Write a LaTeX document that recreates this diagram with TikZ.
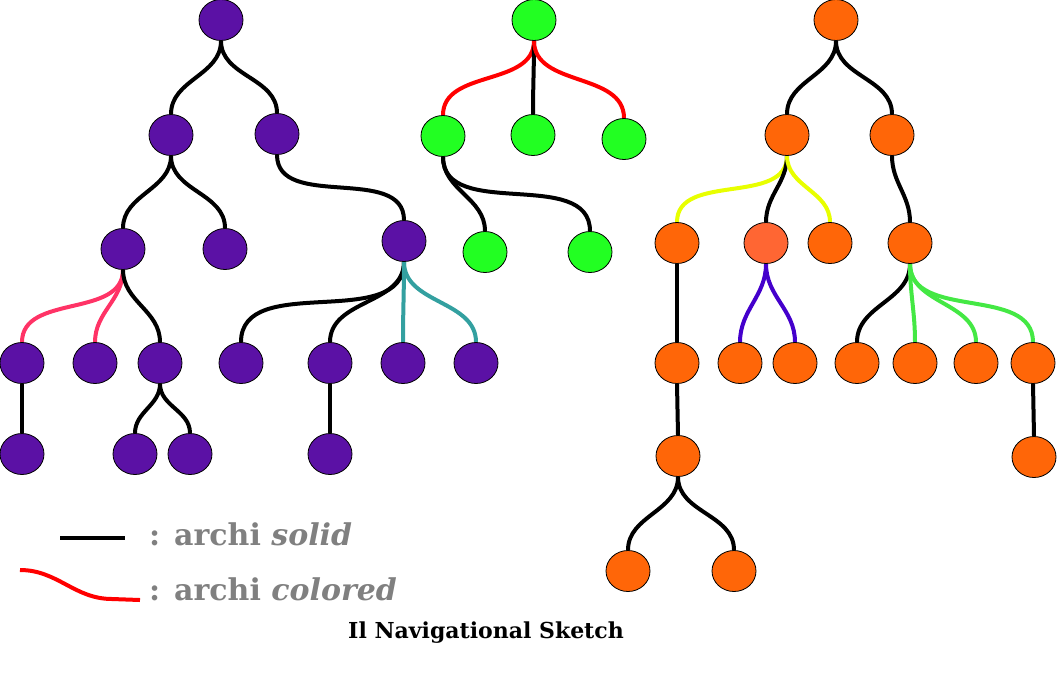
\documentclass[tikz,border=0pt]{standalone}
\usepackage{fontspec}
\setmainfont{DejaVu Serif}
\usetikzlibrary{shapes.geometric,backgrounds}
\definecolor{purp}{RGB}{91,17,165}
\definecolor{grn}{RGB}{34,255,34}
\definecolor{orng}{RGB}{255,102,8}
\definecolor{lorng}{RGB}{255,102,51}
\definecolor{pinkE}{RGB}{255,51,102}
\definecolor{tealE}{RGB}{51,160,160}
\definecolor{yelE}{RGB}{232,255,0}
\definecolor{blueE}{RGB}{68,0,204}
\definecolor{lgrnE}{RGB}{68,232,68}
\definecolor{txtgray}{RGB}{128,128,128}
\tikzset{
  tnode/.style={ellipse,draw=black,line width=0.8pt,minimum width=44pt,minimum height=41pt,inner sep=0pt},
  pn/.style={tnode,fill=purp},
  gn/.style={tnode,fill=grn},
  on/.style={tnode,fill=orng},
  edge/.style={line width=4pt,draw=black},
  cedge/.style={line width=4pt},
  sc/.style={out=-90,in=90},
  legtext/.style={anchor=base west,text=txtgray,font=\fontsize{30}{35}\selectfont\bfseries,inner sep=0pt},
}
\begin{document}
\begin{tikzpicture}[x=1pt,y=-1pt]
\useasboundingbox (0,0) rectangle (1057,683);
% purple tree
\node[pn] (P0) at (221,20) {};
\node[pn] (P1) at (171,135) {};
\node[pn] (P2) at (277,134) {};
\node[pn] (P3) at (123,249) {};
\node[pn] (P4) at (225,249) {};
\node[pn] (P5) at (404,241) {};
\node[pn] (P6) at (22,363) {};
\node[pn] (P7) at (95,363) {};
\node[pn] (P8) at (160,363) {};
\node[pn] (P9) at (22,454) {};
\node[pn] (P10) at (135,454) {};
\node[pn] (P11) at (190,454) {};
\node[pn] (P12) at (241,363) {};
\node[pn] (P13) at (330,363) {};
\node[pn] (P14) at (403,363) {};
\node[pn] (P15) at (476,363) {};
\node[pn] (P16) at (330,454) {};
% green tree
\node[gn] (G0) at (534,20) {};
\node[gn] (G1) at (443,136) {};
\node[gn] (G2) at (533,135) {};
\node[gn] (G3) at (624,139) {};
\node[gn] (G4) at (485,252) {};
\node[gn] (G5) at (590,252) {};
% orange tree
\node[on] (O0) at (836,20) {};
\node[on] (O1) at (787,135) {};
\node[on] (O2) at (892,135) {};
\node[on] (O3) at (677,243) {};
\node[tnode,fill=lorng] (O4) at (766,243) {};
\node[on] (O5) at (830,243) {};
\node[on] (O6) at (910,243) {};
\node[on] (O7) at (677,363) {};
\node[on] (O8) at (678,456) {};
\node[on] (O9) at (628,571) {};
\node[on] (O10) at (734,571) {};
\node[on] (O11) at (740,363) {};
\node[on] (O12) at (795,363) {};
\node[on] (O13) at (857,363) {};
\node[on] (O14) at (915,363) {};
\node[on] (O15) at (976,363) {};
\node[on] (O16) at (1033,363) {};
\node[on] (O17) at (1034,457) {};
\begin{scope}[on background layer]
% purple edges
\draw[edge] (P0.south) to[sc] (P1.north);
\draw[edge] (P0.south) to[sc] (P2.north);
\draw[edge] (P1.south) to[sc] (P3.north);
\draw[edge] (P1.south) to[sc] (P4.north);
\draw[edge] (P2.south) to[sc] (P5.north);
\draw[cedge,pinkE] (P3.south) to[sc] (P6.north);
\draw[cedge,pinkE] (P3.south) to[sc] (P7.north);
\draw[edge] (P3.south) to[sc] (P8.north);
\draw[edge] (P6.south) -- (P9.north);
\draw[edge] (P8.south) to[sc] (P10.north);
\draw[edge] (P8.south) to[sc] (P11.north);
\draw[edge] (P5.south) to[sc] (P12.north);
\draw[edge] (P5.south) to[sc] (P13.north);
\draw[cedge,tealE] (P5.south) to[sc] (P14.north);
\draw[cedge,tealE] (P5.south) to[sc] (P15.north);
\draw[edge] (P13.south) -- (P16.north);
% green edges
\draw[cedge,red] (G0.south) to[sc] (G1.north);
\draw[edge] (G0.south) to[sc] (G2.north);
\draw[cedge,red] (G0.south) to[sc] (G3.north);
\draw[edge] (G1.south) to[sc] (G4.north);
\draw[edge] (G1.south) to[sc] (G5.north);
% orange edges
\draw[edge] (O0.south) to[sc] (O1.north);
\draw[edge] (O0.south) to[sc] (O2.north);
\draw[cedge,yelE] (O1.south) to[sc] (O3.north);
\draw[edge] (O1.south) to[sc] (O4.north);
\draw[cedge,yelE] (O1.south) to[sc] (O5.north);
\draw[edge] (O2.south) to[sc] (O6.north);
\draw[edge] (O3.south) -- (O7.north);
\draw[edge] (O7.south) -- (O8.north);
\draw[edge] (O8.south) to[sc] (O9.north);
\draw[edge] (O8.south) to[sc] (O10.north);
\draw[cedge,blueE] (O4.south) to[sc] (O11.north);
\draw[cedge,blueE] (O4.south) to[sc] (O12.north);
\draw[edge] (O6.south) to[sc] (O13.north);
\draw[cedge,lgrnE] (O6.south) to[sc] (O14.north);
\draw[cedge,lgrnE] (O6.south) to[sc] (O15.north);
\draw[cedge,lgrnE] (O6.south) to[sc] (O16.north);
\draw[edge] (O16.south) -- (O17.north);
\end{scope}
% legend
\coordinate (L1a) at (60,538);
\coordinate (L1b) at (125,538);
\coordinate (L2a) at (20,570);
\coordinate (L2b) at (112,599);
\coordinate (L2c) at (140,600);
\draw[edge] (L1a) -- (L1b);
\draw[cedge,red] (L2a) to[out=0,in=180] (L2b) -- (L2c);
\node[legtext] (T1) at (149,545) {: archi \textit{solid}};
\node[legtext] (T2) at (149,600) {: archi \textit{colored}};
\node[anchor=base,font=\fontsize{22}{26}\selectfont\bfseries,inner sep=0pt] (T3) at (486,638) {Il Navigational Sketch};
\end{tikzpicture}
\end{document}
